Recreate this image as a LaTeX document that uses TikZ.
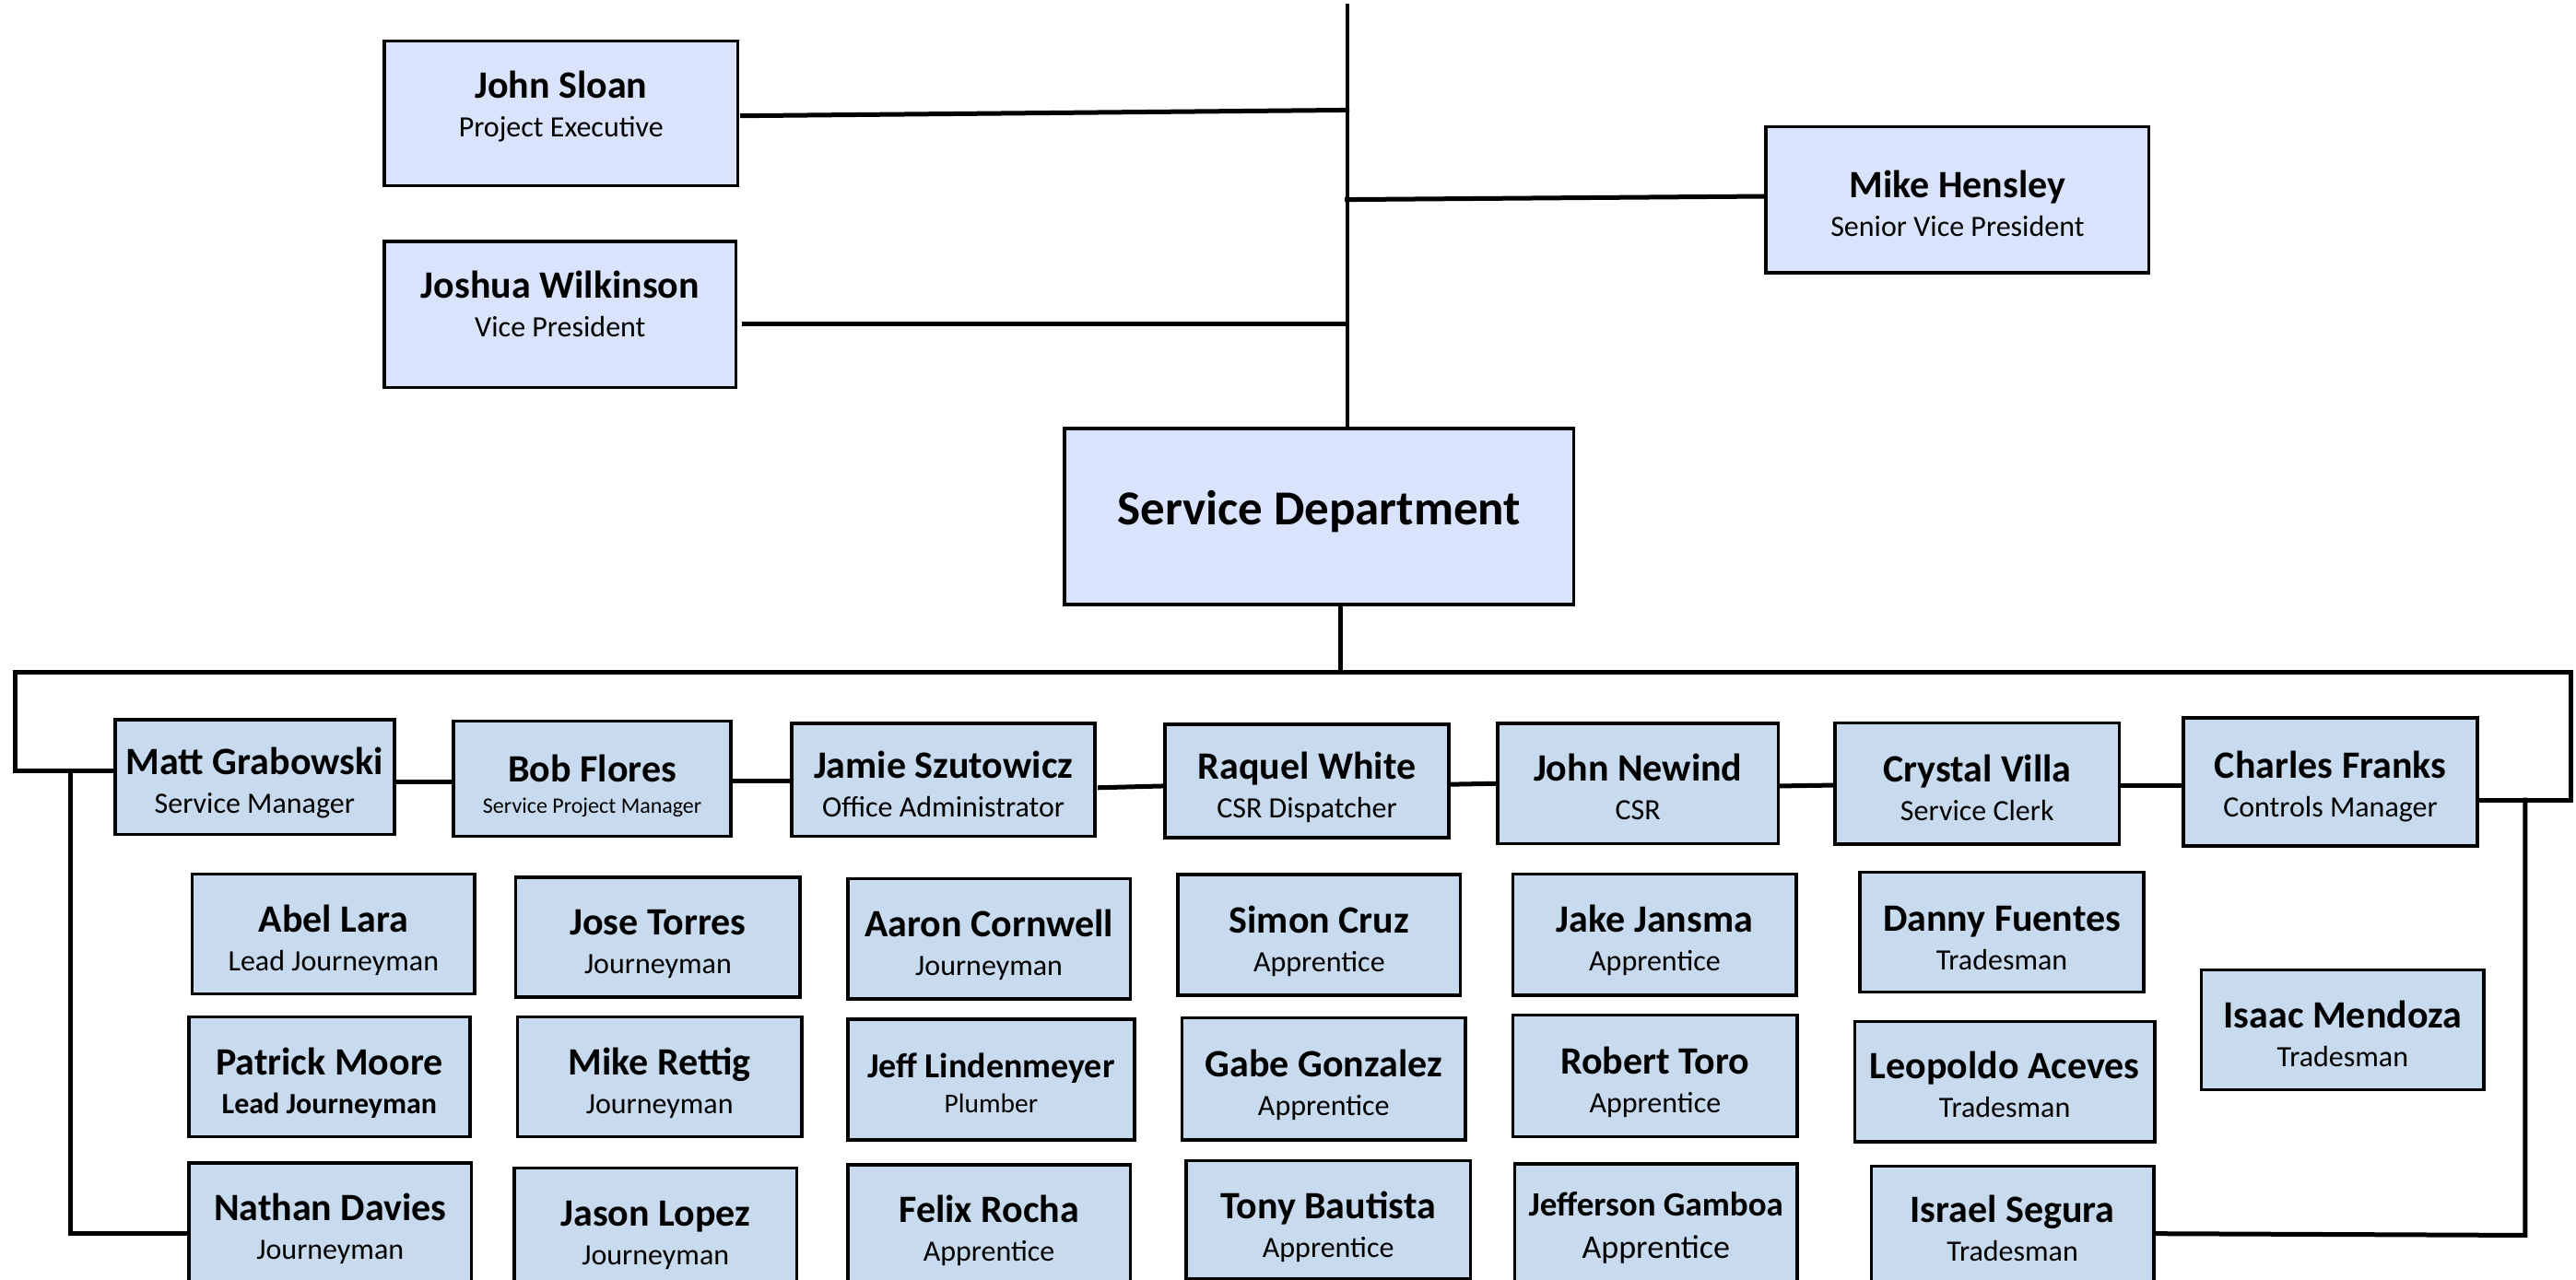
\documentclass[tikz,border=0pt]{standalone}
\usepackage{fontspec}
\setmainfont{Carlito}
\usetikzlibrary{fit,calc}
\definecolor{topfill}{RGB}{218,227,252}
\definecolor{wfill}{RGB}{200,218,238}
\newcommand\nm[1]{{\fontsize{42}{42}\selectfont\bfseries\vphantom{Jh}#1}}
\newcommand\subt[1]{\vphantom{hg}#1}
\newcommand\obox[8]{%
  \node[#2, fit={(#3,#4) (#5,#6)}] (#1) {};
  \node[txt] (#1t) at ($(#1.center)+(0,#8+0.8)$) {#7};}
\begin{document}
\begin{tikzpicture}[x=1.7825pt,y=-1.7825pt,
  topbox/.style={draw=black, line width=3.5pt, fill=topfill, inner sep=0pt},
  wbox/.style={draw=black, line width=3.5pt, fill=wfill, inner sep=0pt},
  txt/.style={align=center, inner sep=0pt, font=\fontsize{32}{42}\selectfont},
  conn/.style={line width=5pt, line cap=rect},
  trunk/.style={line width=4pt}]
\useasboundingbox (0,0) rectangle (1568,779);
\clip (0,0) rectangle (1568,779);
% top level
\obox{js}{topbox}{234}{25}{449}{113}{\nm{John Sloan}\\\subt{Project Executive}}{-5}
\obox{jw}{topbox}{234}{147}{448}{236}{\nm{Joshua Wilkinson}\\\subt{Vice President}}{-5.5}
\obox{mh}{topbox}{1075}{77}{1308}{166}{\nm{Mike Hensley}\\\subt{Senior Vice President}}{3}
\obox{sd}{topbox}{648}{261}{958}{368}{\fontsize{53}{53}\selectfont\bfseries Service Department}{-4}
% managers
\obox{mg}{wbox}{70}{438}{240}{508}{\nm{Matt Grabowski}\\\subt{Service Manager}}{3}
\obox{bf}{wbox}{276}{439}{445}{509}{\nm{Bob Flores}\\[-7.5pt]{\fontsize{24}{24}\selectfont\subt{Service Project Manager}}}{3.5}
\obox{jsz}{wbox}{482}{440.5}{666.5}{509}{\nm{Jamie Szutowicz}\\\subt{Office Administrator}}{3}
\obox{rw}{wbox}{709}{441}{882}{510}{\nm{Raquel White}\\\subt{CSR Dispatcher}}{3}
\obox{jn}{wbox}{911.5}{440.5}{1082.5}{513.5}{\nm{John Newind}\\\subt{CSR}}{2.5}
\obox{cv}{wbox}{1117}{440}{1290}{514}{\nm{Crystal Villa}\\\subt{Service Clerk}}{3}
\obox{cf}{wbox}{1329}{437}{1508}{515}{\nm{Charles Franks}\\\subt{Controls Manager}}{2}
% workers column 1
\obox{al}{wbox}{117}{532}{289}{605}{\nm{Abel Lara}\\\subt{Lead Journeyman}}{3}
\obox{pm}{wbox}{115}{619}{286}{692}{\nm{Patrick Moore}\\\subt{\bfseries Lead Journeyman}}{3}
\obox{nd}{wbox}{115}{708}{287}{781}{\nm{Nathan Davies}\\\subt{Journeyman}}{3}
% column 2
\obox{jt}{wbox}{314}{534}{487}{607}{\nm{Jose Torres}\\\subt{Journeyman}}{3}
\obox{mr}{wbox}{315}{619}{488}{692}{\nm{Mike Rettig}\\\subt{Journeyman}}{3}
\obox{jlo}{wbox}{313}{711}{485}{784}{\nm{Jason Lopez}\\\subt{Journeyman}}{3}
% column 3
\obox{ac}{wbox}{516}{535}{688}{608}{\nm{Aaron Cornwell}\\\subt{Journeyman}}{3}
\obox{jli}{wbox}{516}{620.5}{690.5}{694}{{\fontsize{38}{38}\selectfont\bfseries\vphantom{Jh}Jeff Lindenmeyer}\\[-3.8pt]{\fontsize{29.5}{29.5}\selectfont\subt{Plumber}}}{2.5}
\obox{fr}{wbox}{516}{709}{688}{782}{\nm{Felix Rocha}\\\subt{Apprentice}}{3}
% column 4
\obox{sc}{wbox}{717}{532.5}{889}{606}{\nm{Simon Cruz}\\\subt{Apprentice}}{3}
\obox{gg}{wbox}{719.5}{619.5}{892}{694}{\nm{Gabe Gonzalez}\\\subt{Apprentice}}{3}
\obox{tb}{wbox}{722}{706.5}{895}{778.5}{\nm{Tony Bautista}\\\subt{Apprentice}}{3.5}
% column 5
\obox{jj}{wbox}{921}{532}{1093.5}{606}{\nm{Jake Jansma}\\\subt{Apprentice}}{2.5}
\obox{rto}{wbox}{921}{618}{1094}{692}{\nm{Robert Toro}\\\subt{Apprentice}}{3}
\obox{jg}{wbox}{922}{708.5}{1094}{781.5}{{\fontsize{37}{37}\selectfont\bfseries\vphantom{Jh}Jefferson Gamboa}\\[4pt]{\fontsize{36}{36}\selectfont\subt{Apprentice}}}{1.5}
% column 6
\obox{df}{wbox}{1132}{531}{1305}{604}{\nm{Danny Fuentes}\\\subt{Tradesman}}{3.5}
\obox{la}{wbox}{1129}{622}{1311.5}{695}{\nm{Leopoldo Aceves}\\\subt{Tradesman}}{2.5}
\obox{isg}{wbox}{1139}{710}{1311}{783}{\nm{Israel Segura}\\\subt{Tradesman}}{2}
% column 7
\obox{im}{wbox}{1340}{590.5}{1512}{663.5}{\nm{Isaac Mendoza}\\\subt{Tradesman}}{3}
% connectors, top
\coordinate (ttop) at (820,2);
\coordinate (bar) at (816,409);
\coordinate (bl) at (9,409);
\coordinate (br) at (1565,409);
\coordinate (lv) at (43,469);
\coordinate (rv) at (1537,487);
\draw[trunk] (ttop) -- (ttop |- sd.north);
\draw[conn] ($(js.east |- 0,70.5)+(2,0)$) -- (ttop |- 0,67);
\draw[conn] ($(jw.east |- 0,197)+(4,0)$) -- (ttop |- 0,197);
\draw[conn] (ttop |- 0,121.5) -- (mh.west |- 0,119.5);
\draw[conn] (bar |- sd.south) -- (bar);
% main bar
\draw[conn] (mg.west |- lv) -- (bl |- lv) -- (bl) -- (br) -- (br |- rv) -- (cf.east |- rv);
% manager chain
\draw[conn] (mg.east |- 0,476) -- (bf.west |- 0,476);
\draw[conn] (bf.east |- 0,475.5) -- (jsz.west |- 0,475.5);
\draw[conn] ($(jsz.east |- 0,479.5)+(2,0)$) -- (rw.west |- 0,478.5);
\draw[conn] (rw.east |- 0,477.5) -- (jn.west |- 0,477);
\draw[conn] (jn.east |- 0,478.5) -- (cv.west |- 0,478);
\draw[conn] (cv.east |- 0,478) -- (cf.west |- 0,478);
% side branches
\draw[conn] (lv) -- (lv |- 0,751) -- (nd.west |- 0,751);
\draw[conn] (rv) -- (rv |- 0,752) -- (isg.east |- 0,751);
\end{tikzpicture}
\end{document}
